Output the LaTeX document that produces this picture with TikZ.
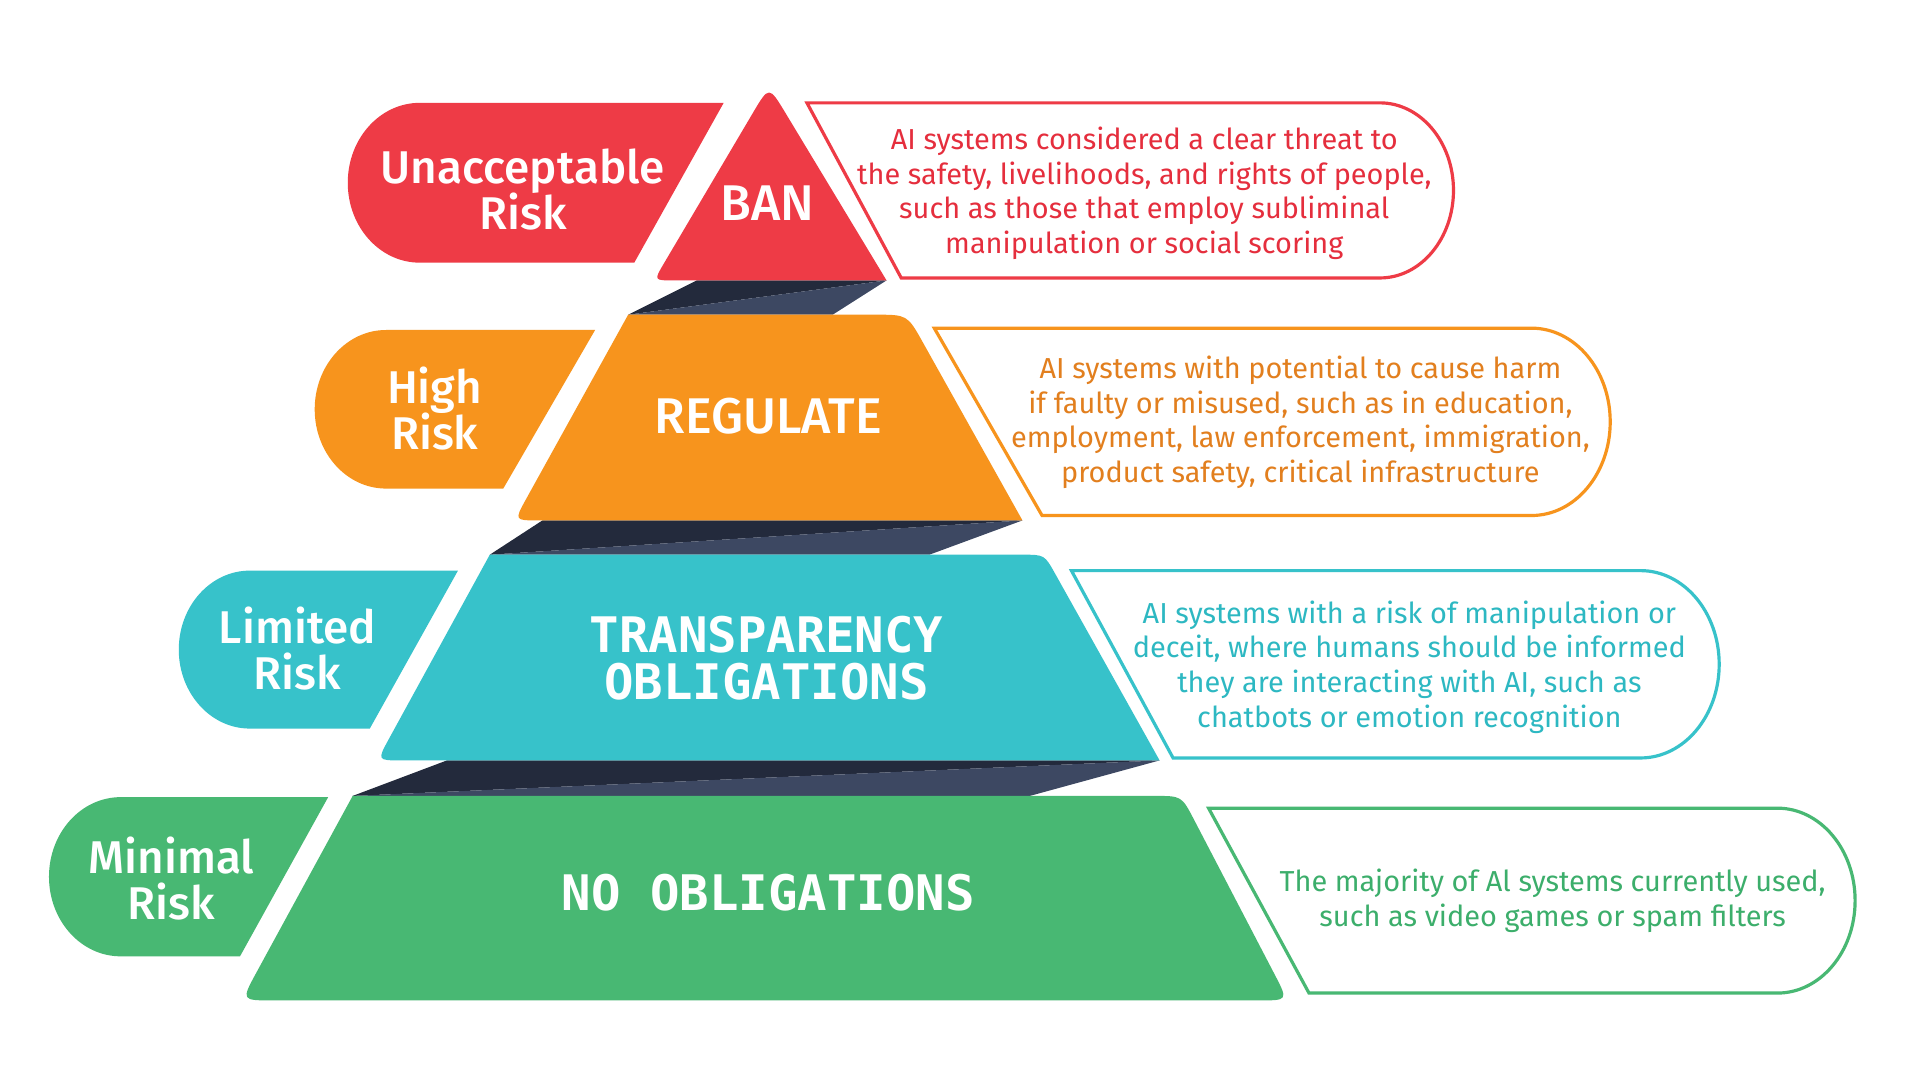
\documentclass[tikz,border=0pt]{standalone}
\usepackage{fontspec}
\setmainfont{Fira Sans}
\newfontfamily\labfont{Fira Sans Medium}
\newfontfamily\obfont{DejaVu Sans Mono}
\usetikzlibrary{calc}
\definecolor{cred}{HTML}{EE3B46}
\definecolor{corange}{HTML}{F7941D}
\definecolor{ccyan}{HTML}{37C2CA}
\definecolor{cgreen}{HTML}{48B873}
\definecolor{dkA}{HTML}{232A3C}
\definecolor{dkB}{HTML}{3D4862}
\definecolor{tred}{HTML}{E52E3D}
\definecolor{torange}{HTML}{E27F1E}
\definecolor{tcyan}{HTML}{2DB8C2}
\definecolor{tgreen}{HTML}{3CAE6B}
\newcommand{\txtstack}[1]{\begin{tabular}[t]{@{}c@{}}#1\end{tabular}}
% pill: #1 L, #2 T, #3 B, #4 TRx, #5 BRx, #6 colour
\newcommand{\pillshape}[6]{%
 \pgfmathsetmacro\pLry{(#3-#2)/2}%
 \pgfmathsetmacro\pLrx{0.9*\pLry}%
 \pgfmathsetmacro\pLcy{#2+\pLry}%
 \pgfmathsetmacro\pLa{#1+\pLrx}%
 \pgfmathsetmacro\pLkx{0.5523*\pLrx}%
 \pgfmathsetmacro\pLky{0.5523*\pLry}%
 \fill[#6] (#4,#2) -- (\pLa,#2) .. controls (\pLa-\pLkx,#2) and (#1,\pLcy-\pLky) .. (#1,\pLcy) .. controls (#1,\pLcy+\pLky) and (\pLa-\pLkx,#3) .. (\pLa,#3) -- (#5,#3) -- cycle;}
% description box: #1 TLx, #2 BLx, #3 T, #4 B, #5 R, #6 colour
\newcommand{\descshape}[6]{%
 \pgfmathsetmacro\dSry{(#4-#3)/2}%
 \pgfmathsetmacro\dSrx{0.84*\dSry}%
 \pgfmathsetmacro\dScy{#3+\dSry}%
 \pgfmathsetmacro\dSa{#5-\dSrx}%
 \pgfmathsetmacro\dSkx{0.5523*\dSrx}%
 \pgfmathsetmacro\dSky{0.5523*\dSry}%
 \draw[#6, line width=2.6pt, fill=white, line join=miter] (#1,#3) -- (\dSa,#3) .. controls (\dSa+\dSkx,#3) and (#5,\dScy-\dSky) .. (#5,\dScy) .. controls (#5,\dScy+\dSky) and (\dSa+\dSkx,#4) .. (\dSa,#4) -- (#2,#4) -- cycle;}
\tikzset{
 lab/.style={text=white, anchor=base, inner sep=0pt, font=\labfont\fontsize{37.5}{37.5}\selectfont},
 tier/.style={text=white, anchor=base, inner sep=0pt, font=\labfont\fontsize{41}{38}\selectfont},
 tiermono/.style={text=white, anchor=base, inner sep=0pt, font=\obfont\bfseries\fontsize{40}{38}\selectfont},
 desc/.style={anchor=base, inner sep=0pt, font=\fontsize{23.6}{28.3}\selectfont},
}
\begin{document}
\begin{tikzpicture}[x=1pt,y=-1pt]
\useasboundingbox (0,0) rectangle (1568,882);
\fill[white] (0,0) rectangle (1568,882);

% ---------- dark ribbons ----------
\fill[dkA] (569,229) -- (724,229) -- (513,257) -- cycle;
\fill[dkB] (513,257) -- (724,229) -- (680,257) -- cycle;
\fill[dkA] (443,425) -- (835,425) -- (400,453) -- cycle;
\fill[dkB] (400,453) -- (835,425) -- (759,453) -- cycle;
\fill[dkA] (365,621) -- (947,621) -- (288,650) -- cycle;
\fill[dkB] (288,650) -- (947,621) -- (841,650) -- cycle;

% ---------- row 1 : red ----------
\pillshape{284}{84}{214.5}{591}{518}{cred}
\coordinate (tA) at (628,70);
\coordinate (tL) at (534,229);
\coordinate (tR) at (724,229);
\fill[cred] ($(tA)!26pt!(tL)$) .. controls (tA) .. ($(tA)!26pt!(tR)$) -- (tR) -- ($(tL)!16pt!(tR)$) .. controls (tL) .. ($(tL)!16pt!(tA)$) -- cycle;
\descshape{659}{736}{84}{227}{1187}{cred}

% ---------- row 2 : orange ----------
\pillshape{257}{269.5}{399}{486}{411}{corange}
\coordinate (oTL) at (513,257);
\coordinate (oTR) at (741,257);
\coordinate (oBR) at (835,425);
\coordinate (oBL) at (420,425);
\fill[corange] (oTL) -- ($(oTR)!26pt!(oTL)$) .. controls (oTR) .. ($(oTR)!26pt!(oBR)$) -- (oBR) -- ($(oBL)!20pt!(oBR)$) .. controls (oBL) .. ($(oBL)!20pt!(oTL)$) -- cycle;
\descshape{763}{851}{268}{421}{1315}{corange}

% ---------- row 3 : cyan ----------
\pillshape{146}{466}{595}{374}{302}{ccyan}
\coordinate (cTL) at (400,453);
\coordinate (cTR) at (853,453);
\coordinate (cBR) at (947,621);
\coordinate (cBL) at (308,621);
\fill[ccyan] (cTL) -- ($(cTR)!18pt!(cTL)$) .. controls (cTR) .. ($(cTR)!18pt!(cBR)$) -- (cBR) -- ($(cBL)!20pt!(cBR)$) .. controls (cBL) .. ($(cBL)!20pt!(cTL)$) -- cycle;
\descshape{875}{958}{466}{619}{1404}{ccyan}

% ---------- row 4 : green ----------
\pillshape{40}{651}{781}{268}{196}{cgreen}
\coordinate (gTL) at (288,650);
\coordinate (gTR) at (965,650);
\coordinate (gBR) at (1052,817);
\coordinate (gBL) at (197,817);
\fill[cgreen] (gTL) -- ($(gTR)!22pt!(gTL)$) .. controls (gTR) .. ($(gTR)!22pt!(gBR)$) -- ($(gBR)!24pt!(gTR)$) .. controls (gBR) .. ($(gBR)!24pt!(gBL)$) -- ($(gBL)!26pt!(gBR)$) .. controls (gBL) .. ($(gBL)!26pt!(gTL)$) -- cycle;
\descshape{987}{1069}{660}{811}{1515}{cgreen}

% ---------- labels ----------
\node[lab] (risk1) at (427,149.7) {\txtstack{\smash{Unacceptable}\\\smash{Risk}}};
\node[lab] (risk2) at (355,329.5) {\txtstack{\smash{High}\\\smash{Risk}}};
\node[lab] (risk3) at (243,525.5) {\txtstack{\smash{Limited}\\\smash{Risk}}};
\node[lab] (risk4) at (140,713.5) {\txtstack{\smash{Minimal}\\\smash{Risk}}};

\node[tier] (ban) at (627,179.7) {BAN};
\node[tier] (reg) at (627.5,354) {REGULATE};
\node[tiermono] (trans) at (626,533) {\txtstack{\smash{TRANSPARENCY}\\\smash{OBLIGATIONS}}};
\node[tiermono] (noob) at (627.5,743.7) {NO OBLIGATIONS};

\node[desc, text=tred] (d1) at (934.5,122) {\txtstack{AI systems considered a clear threat to\\the safety, livelihoods, and rights of people,\\such as those that employ subliminal\\manipulation or social scoring}};
\node[desc, text=torange] (d2) at (1062,309) {\txtstack{AI systems with potential to cause harm\\if faulty or misused, such as in education,\\employment, law enforcement, immigration,\\product safety, critical infrastructure}};
\node[desc, text=tcyan] (d3) at (1151,509) {\txtstack{AI systems with a risk of manipulation or\\deceit, where humans should be informed\\they are interacting with AI, such as\\chatbots or emotion recognition}};
\node[desc, text=tgreen] (d4) at (1268,728) {\txtstack{The majority of Al systems currently used,\\such as video games or spam filters}};
\end{tikzpicture}
\end{document}
